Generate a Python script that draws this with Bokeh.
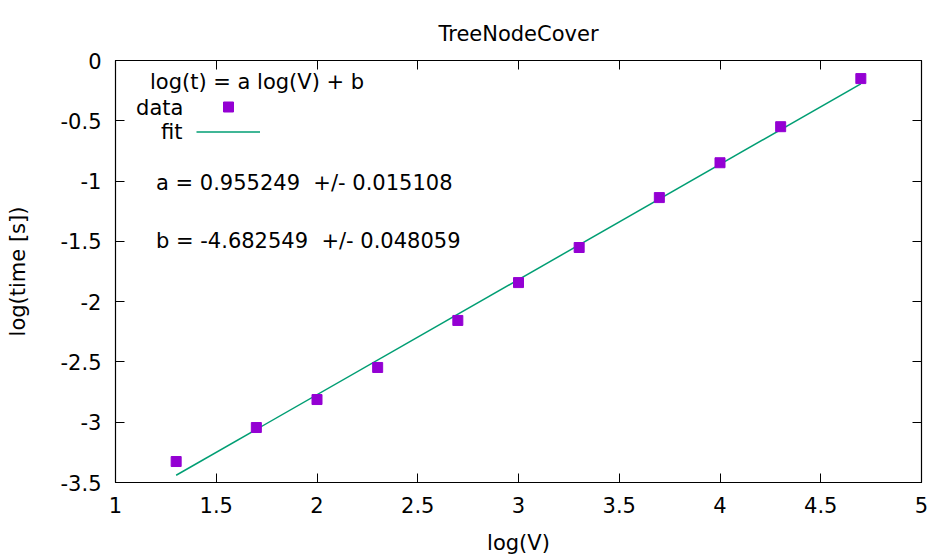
from bokeh.plotting import figure
from bokeh.models import (Range1d, FixedTicker, LinearAxis, Label, Legend, LegendItem,
                          CustomJSTickFormatter, ColumnDataSource)
from bokeh.embed import file_html
from bokeh.resources import INLINE

# ---- data ----
log_v = [1.30103, 1.69897, 2.0, 2.30103, 2.69897, 3.0, 3.30103, 3.69897, 4.0, 4.30103, 4.69897]
log_t = [-3.326, -3.044, -2.812, -2.546, -2.156, -1.842, -1.551, -1.137, -0.848, -0.549, -0.150]
fit_a = 0.955249
fit_a_err = 0.015108
fit_b = -4.682549
fit_b_err = 0.048059
x_ticks = [1, 1.5, 2, 2.5, 3, 3.5, 4, 4.5, 5]
y_ticks = [0, -0.5, -1, -1.5, -2, -2.5, -3, -3.5]
title_text = "TreeNodeCover"

FONT = "DejaVu Sans"
FS = "21px"
PURPLE = "#9400D3"
GREEN = "#009E73"
NBSP = "\u00a0"

fit_x = [min(log_v), max(log_v)]
fit_y = [fit_a * x + fit_b for x in fit_x]

p = figure(width=932, height=558, output_backend="svg", toolbar_location=None,
           x_range=Range1d(1, 5), y_range=Range1d(-3.5, 0),
           min_border_left=115, min_border_right=11, min_border_top=60, min_border_bottom=76,
           title=title_text)
p.title.align = "center"
p.title.text_font = FONT
p.title.text_font_size = FS
p.title.text_font_style = "normal"
p.title.text_color = "black"
p.title.vertical_align = "top"
p.title.standoff = 26

p.grid.visible = False
p.outline_line_color = "black"
p.outline_line_width = 1.2
p.background_fill_color = "white"
p.border_fill_color = "white"

fmt = CustomJSTickFormatter(code="return String(Math.round(tick*10)/10);")
blank = CustomJSTickFormatter(code="return '';")

for ax in p.xaxis:
    ax.ticker = FixedTicker(ticks=x_ticks)
for ax in p.yaxis:
    ax.ticker = FixedTicker(ticks=y_ticks)

for ax in list(p.xaxis) + list(p.yaxis):
    ax.formatter = fmt
    ax.major_tick_in = 9
    ax.major_tick_out = 0
    ax.minor_tick_line_color = None
    ax.major_tick_line_color = "black"
    ax.axis_line_color = "black"
    ax.major_label_text_font = FONT
    ax.major_label_text_font_size = FS
    ax.major_label_text_color = "black"
    ax.axis_label_text_font = FONT
    ax.axis_label_text_font_size = FS
    ax.axis_label_text_font_style = "normal"
    ax.axis_label_text_color = "black"
    ax.major_label_standoff = 14

p.xaxis.axis_label = "log(V)"
p.yaxis.axis_label = "log(time [s])"
p.xaxis.axis_label_standoff = 15
p.yaxis.axis_label_standoff = 28

# mirror ticks on top and right
top = LinearAxis(ticker=FixedTicker(ticks=x_ticks), formatter=blank,
                 axis_line_color=None, major_tick_in=9, major_tick_out=0,
                 minor_tick_line_color=None, major_tick_line_color="black",
                 major_label_standoff=0)
right = LinearAxis(ticker=FixedTicker(ticks=y_ticks), formatter=blank,
                   axis_line_color=None, major_tick_in=9, major_tick_out=0,
                   minor_tick_line_color=None, major_tick_line_color="black",
                   major_label_standoff=0)
p.add_layout(top, "above")
p.add_layout(right, "right")

src = ColumnDataSource(dict(x=log_v, y=log_t))
r_fit = p.line(fit_x, fit_y, line_color=GREEN, line_width=1.5)
r_pts = p.scatter("x", "y", source=src, marker="square", size=10,
                  fill_color=PURPLE, line_color=PURPLE)

# legend glyph samples (labels drawn separately to the left, gnuplot style)
legend = Legend(items=[LegendItem(label="", renderers=[r_pts]),
                       LegendItem(label="", renderers=[r_fit])],
                location=(81, 338), orientation="vertical",
                glyph_width=64, glyph_height=25, label_height=25, spacing=0,
                padding=0, margin=0, border_line_color=None,
                background_fill_alpha=0, label_standoff=0, label_width=0)
p.add_layout(legend, "center")

def lab(x, y, text, align="left"):
    p.add_layout(Label(x=x, y=y, text=text, text_font=FONT, text_font_size=FS,
                       text_color="black", text_baseline="middle", text_align=align))

lab(1.171, -0.182, "log(t) = a log(V) + b")
lab(1.102, -0.390, "data")
lab(1.226, -0.597, "fit")
lab(1.201, -1.012, f"a = {fit_a:.6f}{NBSP}{NBSP}+/- {fit_a_err:.6f}")
lab(1.201, -1.501, f"b = {fit_b:.6f}{NBSP}{NBSP}+/- {fit_b_err:.6f}")

open("out.html", "w").write(file_html(p, INLINE))
